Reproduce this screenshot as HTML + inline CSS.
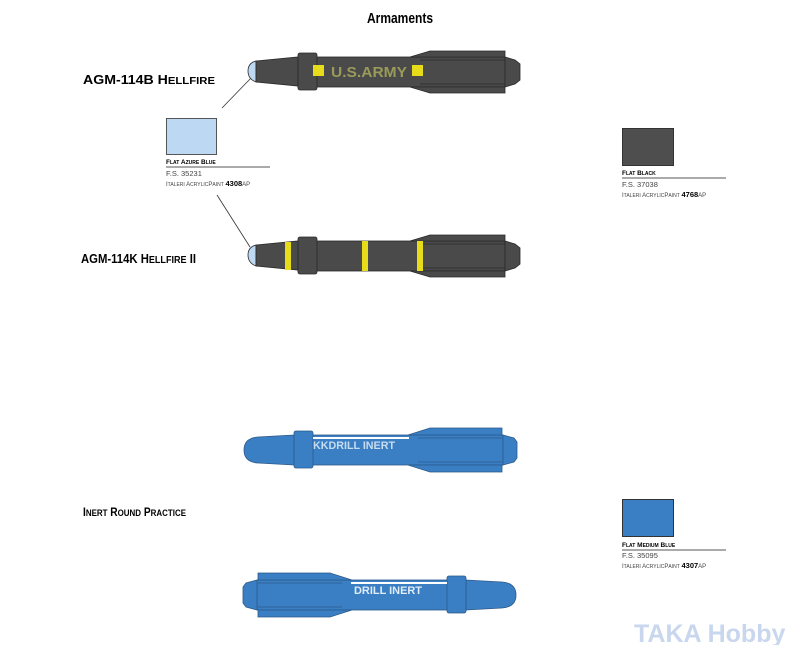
<!DOCTYPE html>
<html><head><meta charset="utf-8"><style>
body{margin:0;width:800px;height:645px;background:#fff;overflow:hidden;font-family:"Liberation Sans",sans-serif}
</style></head><body>
<svg width="800" height="645" viewBox="0 0 800 645" xmlns="http://www.w3.org/2000/svg" font-family="Liberation Sans, sans-serif">
<text x="367" y="23" font-size="15" font-weight="bold" textLength="66" lengthAdjust="spacingAndGlyphs">Armaments</text>
<text x="83" y="84" font-size="12.5" font-weight="bold" textLength="132" lengthAdjust="spacingAndGlyphs">AGM-114B H<tspan font-size="10">ELLFIRE</tspan></text>
<text x="81" y="263" font-size="12.5" font-weight="bold" textLength="115" lengthAdjust="spacingAndGlyphs">AGM-114K H<tspan font-size="10">ELLFIRE</tspan> II</text>
<text x="83" y="516" font-size="11.5" font-weight="bold" textLength="103" lengthAdjust="spacingAndGlyphs">I<tspan font-size="9">NERT</tspan> R<tspan font-size="9">OUND</tspan> P<tspan font-size="9">RACTICE</tspan></text>

<!-- swatches -->
<rect x="166.5" y="118.5" width="50" height="36" fill="#bcd8f2" stroke="#555"/>
<text x="166" y="164" font-size="6.5" font-weight="bold">F<tspan font-size="5">LAT</tspan> A<tspan font-size="5">ZURE</tspan> B<tspan font-size="5">LUE</tspan></text>
<line x1="166" y1="167" x2="270" y2="167" stroke="#555"/>
<text x="166" y="176" font-size="7.5" fill="#444">F.S. 35231</text>
<text x="166" y="186" font-size="6" fill="#444">I<tspan font-size="5">TALERI</tspan> A<tspan font-size="5">CRYLIC</tspan>P<tspan font-size="5">AINT</tspan> <tspan font-weight="bold" font-size="7.5" fill="#000">4308</tspan>AP</text>
<line x1="222" y1="108" x2="251" y2="78" stroke="#333" stroke-width="0.8"/>
<line x1="217" y1="195" x2="250" y2="247" stroke="#333" stroke-width="0.8"/>

<rect x="622.5" y="128.5" width="51" height="37" fill="#4e4e4e" stroke="#333"/>
<text x="622" y="175" font-size="6.5" font-weight="bold">F<tspan font-size="5">LAT</tspan> B<tspan font-size="5">LACK</tspan></text>
<line x1="622" y1="178" x2="726" y2="178" stroke="#555"/>
<text x="622" y="187" font-size="7.5" fill="#444">F.S. 37038</text>
<text x="622" y="197" font-size="6" fill="#444">I<tspan font-size="5">TALERI</tspan> A<tspan font-size="5">CRYLIC</tspan>P<tspan font-size="5">AINT</tspan> <tspan font-weight="bold" font-size="7.5" fill="#000">4768</tspan>AP</text>

<rect x="622.5" y="499.5" width="51" height="37" fill="#3a7fc4" stroke="#333"/>
<text x="622" y="547" font-size="6.5" font-weight="bold">F<tspan font-size="5">LAT</tspan> M<tspan font-size="5">EDIUM</tspan> B<tspan font-size="5">LUE</tspan></text>
<line x1="622" y1="550" x2="726" y2="550" stroke="#555"/>
<text x="622" y="558" font-size="7.5" fill="#444">F.S. 35095</text>
<text x="622" y="568" font-size="6" fill="#444">I<tspan font-size="5">TALERI</tspan> A<tspan font-size="5">CRYLIC</tspan>P<tspan font-size="5">AINT</tspan> <tspan font-weight="bold" font-size="7.5" fill="#000">4307</tspan>AP</text>

<!-- Missile 1 -->
<g transform="translate(0,71)" stroke="#2a2a2a" stroke-width="0.8" fill="#4a4a4a">
<path d="M256,-10 Q248,-8 248,0 Q248,8 256,11 Z" fill="#bcd8f2"/>
<path d="M256,-10 L298,-14 L298,15 L256,11 Z"/>
<rect x="298" y="-14" width="207" height="30"/>
<path d="M410,-14 L430,-20 L505,-20 L505,-14 Z"/>
<path d="M410,16 L430,22 L505,22 L505,16 Z"/>
<line x1="420" y1="-11" x2="505" y2="-11"/><line x1="420" y1="13" x2="505" y2="13"/>
<rect x="298" y="-18" width="19" height="37" rx="2"/>
<path d="M505,-14 L515,-11 L520,-7 L520,9 L515,13 L505,16 Z"/>
<rect x="313" y="-6" width="11" height="11" fill="#e6dc1a" stroke="none"/>
<rect x="412" y="-6" width="11" height="11" fill="#e6dc1a" stroke="none"/>
<text x="331" y="6" font-size="15" font-weight="bold" fill="#9a9a5a" stroke="none" textLength="76" lengthAdjust="spacingAndGlyphs">U.S.ARMY</text>
</g>
<!-- Missile 2 -->
<g transform="translate(0,255)" stroke="#2a2a2a" stroke-width="0.8" fill="#4a4a4a">
<path d="M256,-10 Q248,-8 248,0 Q248,8 256,11 Z" fill="#bcd8f2"/>
<path d="M256,-10 L298,-14 L298,15 L256,11 Z"/>
<rect x="298" y="-14" width="207" height="30"/>
<path d="M410,-14 L430,-20 L505,-20 L505,-14 Z"/>
<path d="M410,16 L430,22 L505,22 L505,16 Z"/>
<line x1="420" y1="-11" x2="505" y2="-11"/><line x1="420" y1="13" x2="505" y2="13"/>
<rect x="298" y="-18" width="19" height="37" rx="2"/>
<path d="M505,-14 L515,-11 L520,-7 L520,9 L515,13 L505,16 Z"/>
<rect x="285" y="-13" width="6" height="28" fill="#e6dc1a" stroke="none"/>
<rect x="362" y="-14" width="6" height="30" fill="#e6dc1a" stroke="none"/>
<rect x="417" y="-14" width="6" height="30" fill="#e6dc1a" stroke="none"/>
</g>
<!-- Missile 3 -->
<g transform="translate(0,449)" stroke="#2d5a8a" stroke-width="0.8" fill="#3a7fc4">
<path d="M258,-12 L294,-14 L294,16 L258,14 Q244,13 244,1 Q244,-11 258,-12 Z"/>
<rect x="294" y="-14" width="209" height="30"/>
<path d="M408,-14 L430,-21 L502,-21 L502,-14 Z"/>
<path d="M408,16 L430,23 L502,23 L502,16 Z"/>
<line x1="418" y1="-11" x2="502" y2="-11"/><line x1="418" y1="13" x2="502" y2="13"/>
<rect x="294" y="-18" width="19" height="37" rx="2"/>
<path d="M503,-14 L514,-11 L517,-7 L517,9 L514,13 L503,16 Z"/>
<rect x="313" y="-12" width="96" height="2" fill="#fff" stroke="none"/>
<text x="313" y="0" font-size="11" font-weight="bold" fill="#c8dcf0" stroke="none" textLength="82" lengthAdjust="spacingAndGlyphs">KKDRILL INERT</text>
</g>
<!-- Missile 4 mirrored -->
<g transform="translate(760,594) scale(-1,1)" stroke="#2d5a8a" stroke-width="0.8" fill="#3a7fc4">
<path d="M258,-12 L294,-14 L294,16 L258,14 Q244,13 244,1 Q244,-11 258,-12 Z"/>
<rect x="294" y="-14" width="209" height="30"/>
<path d="M408,-14 L430,-21 L502,-21 L502,-14 Z"/>
<path d="M408,16 L430,23 L502,23 L502,16 Z"/>
<line x1="418" y1="-11" x2="502" y2="-11"/><line x1="418" y1="13" x2="502" y2="13"/>
<rect x="294" y="-18" width="19" height="37" rx="2"/>
<path d="M503,-14 L514,-11 L517,-7 L517,9 L514,13 L503,16 Z"/>
<rect x="313" y="-12" width="96" height="2" fill="#fff" stroke="none"/>
</g>
<text x="354" y="594" font-size="11" font-weight="bold" fill="#e0ecf8" textLength="68" lengthAdjust="spacingAndGlyphs">DRILL INERT</text>

<text x="634" y="642" font-size="25" font-weight="bold" fill="#c8d6ee">TAKA Hobby</text>
</svg>
</body></html>
